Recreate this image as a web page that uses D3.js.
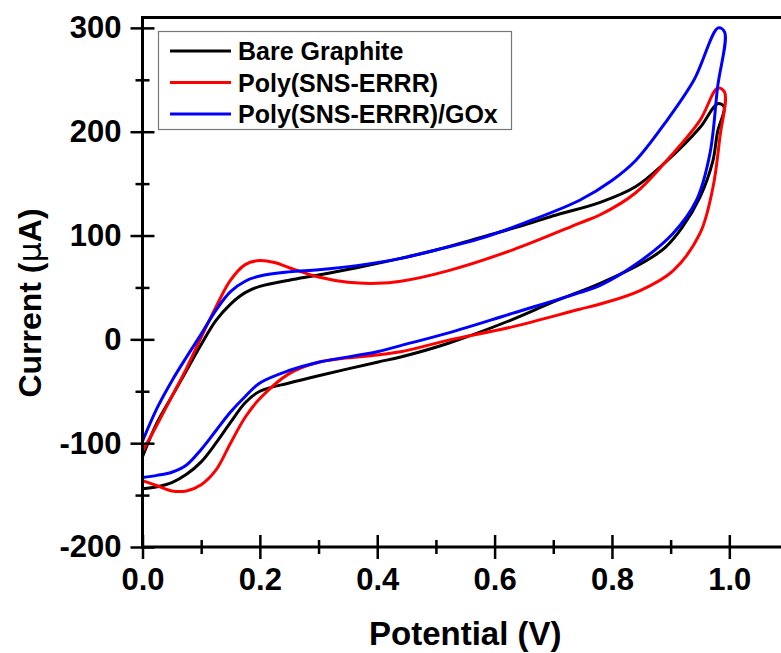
<!DOCTYPE html>
<html>
<head>
<meta charset="utf-8">
<script src="https://cdn.jsdelivr.net/npm/d3@7"></script>
<style>
  body { margin: 0; background: #fff; }
  svg { display: block; font-family: "Liberation Sans", Arial, sans-serif; font-weight: bold; }
</style>
</head>
<body>
<div id="chart"></div>
<script>
// series: potential (V) and current (uA), forward sweep then reverse sweep
const seriesNames = ["Bare Graphite", "Poly(SNS-ERRR)", "Poly(SNS-ERRR)/GOx"]
const seriesColors = ["#000000", "#ff0000", "#0000ff"]

const bareV = [0, .025, .05, .075, .1, .125, .15, .175, .2, .25, .3, .365, .44, .5, .575, .65, .7, .78, .84, .89, .95, .98, .991,
               .98, .972, .95, .92, .89, .85, .78, .7, .63, .52, .44, .4, .3, .25, .2, .175, .15, .125, .1, .075, .05, .025, 0]
const bareI = [-113, -80, -55, -30, -5, 18, 34, 45, 51, 57, 62, 69, 78, 86, 98, 110, 119, 132, 147, 170, 204, 227, 224,
               200, 172, 137, 108, 88, 73, 54, 36, 19, -4, -17, -22, -35, -42, -50, -61, -80, -100, -118, -130, -138, -142, -144]

const polyV = [0, .025, .05, .075, .1, .125, .15, .175, .2, .225, .25, .3, .35, .4, .44, .52, .63, .745, .78, .84, .893, .95, .98, .992,
               .984, .972, .95, .904, .848, .78, .745, .63, .52, .44, .4, .3, .25, .2, .175, .15, .125, .1, .075, .05, .025, 0]
const polyI = [-108, -82, -55, -28, 2, 31, 57, 72, 76, 74, 69, 60, 55, 54, 56, 66, 86, 112, 120, 141, 172, 211, 242, 238,
               195, 146, 102, 66, 47, 34, 29, 12, -1, -12, -15, -22, -33, -57, -75, -100, -126, -140, -146, -146, -141, -136]

const goxV = [0, .025, .05, .075, .1, .125, .15, .175, .2, .25, .3, .365, .44, .5, .575, .65, .745, .8, .84, .89, .94, .981, .992,
              .98, .967, .944, .904, .84, .78, .745, .63, .52, .44, .4, .3, .25, .2, .175, .15, .125, .1, .075, .05, .025, 0]
const goxI = [-98, -66, -40, -17, 5, 28, 46, 56, 61, 65, 67, 71, 78, 86, 97, 112, 134, 153, 172, 208, 250, 300, 296,
              243, 179, 134, 102, 72, 52, 45, 25, 6, -6, -12, -22, -30, -42, -55, -70, -88, -106, -121, -128, -131, -133]

const xMajor = [0, 0.2, 0.4, 0.6, 0.8, 1.0]
const xMinor = [0.1, 0.3, 0.5, 0.7, 0.9]
const yMajor = [-200, -100, 0, 100, 200, 300]
const yMinor = [-150, -50, 50, 150, 250]

const width = 781, height = 653
const padLeft = 142.5, padRight = 788, padTop = 17.5, padBottom = 547

const x = d3.scaleLinear().domain([0, 1.1]).range([padLeft, padRight])
const y = d3.scaleLinear().domain([-200, 310]).range([padBottom, padTop])

const svg = d3.select("#chart").append("svg")
  .attr("width", width)
  .attr("height", height)

const series = [
  {name: seriesNames[0], color: seriesColors[0], v: bareV, i: bareI},
  {name: seriesNames[1], color: seriesColors[1], v: polyV, i: polyI},
  {name: seriesNames[2], color: seriesColors[2], v: goxV, i: goxI}
]

const line = d3.line()
  .x(d => x(d[0]))
  .y(d => y(d[1]))
  .curve(d3.curveCatmullRom.alpha(0.5))

svg.append("defs").append("clipPath").attr("id", "plot-clip")
  .append("rect")
  .attr("x", padLeft).attr("y", padTop)
  .attr("width", padRight - padLeft).attr("height", padBottom - padTop)

const plot = svg.append("g").attr("clip-path", "url(#plot-clip)")
series.forEach(s => {
  plot.append("path")
    .datum(s.v.map((v, k) => [v, s.i[k]]))
    .attr("fill", "none")
    .attr("stroke", s.color)
    .attr("stroke-width", 3)
    .attr("stroke-linejoin", "round")
    .attr("d", line)
})

// frame
svg.append("rect")
  .attr("x", padLeft).attr("y", padTop)
  .attr("width", padRight - padLeft).attr("height", padBottom - padTop)
  .attr("fill", "none")
  .attr("stroke", "#000")
  .attr("stroke-width", 3)

function styleAxis(g) {
  g.select(".domain").remove()
  g.selectAll(".tick line").attr("stroke", "#000").attr("stroke-width", 2.5)
  g.selectAll("text").attr("fill", "#000").style("font-size", "31px").style("font-weight", "bold")
}

// y axis: labelled major ticks outside, plus inside halves and minor ticks
svg.append("g")
  .attr("transform", "translate(" + padLeft + ",0)")
  .call(d3.axisLeft(y).tickValues(yMajor).tickSize(12).tickPadding(9).tickFormat(d => String(d)))
  .call(styleAxis)
svg.append("g")
  .attr("transform", "translate(" + padLeft + ",0)")
  .call(d3.axisRight(y).tickValues(yMajor).tickSize(12).tickFormat(""))
  .call(styleAxis)
svg.append("g")
  .attr("transform", "translate(" + padLeft + ",0)")
  .call(d3.axisLeft(y).tickValues(yMinor).tickSize(7).tickFormat(""))
  .call(styleAxis)
svg.append("g")
  .attr("transform", "translate(" + padLeft + ",0)")
  .call(d3.axisRight(y).tickValues(yMinor).tickSize(7).tickFormat(""))
  .call(styleAxis)

// x axis
svg.append("g")
  .attr("transform", "translate(0," + padBottom + ")")
  .call(d3.axisBottom(x).tickValues(xMajor).tickSize(12).tickPadding(9).tickFormat(d3.format(".1f")))
  .call(styleAxis)
svg.append("g")
  .attr("transform", "translate(0," + padBottom + ")")
  .call(d3.axisTop(x).tickValues(xMajor).tickSize(12).tickFormat(""))
  .call(styleAxis)
svg.append("g")
  .attr("transform", "translate(0," + padBottom + ")")
  .call(d3.axisBottom(x).tickValues(xMinor).tickSize(7).tickFormat(""))
  .call(styleAxis)
svg.append("g")
  .attr("transform", "translate(0," + padBottom + ")")
  .call(d3.axisTop(x).tickValues(xMinor).tickSize(7).tickFormat(""))
  .call(styleAxis)

// axis titles
svg.append("text")
  .attr("x", (padLeft + padRight) / 2)
  .attr("y", 645)
  .attr("text-anchor", "middle")
  .style("font-size", "33px")
  .text("Potential (V)")

const yTitle = svg.append("text")
  .attr("transform", "translate(41,303) rotate(-90)")
  .attr("text-anchor", "middle")
  .style("font-size", "32px")
yTitle.append("tspan").text("Current (")
yTitle.append("tspan").style("font-family", "'DejaVu Sans', sans-serif").style("font-weight", "normal").text("\u03bc")
yTitle.append("tspan").text("A)")

// legend
const legend = svg.append("g")
legend.append("rect")
  .attr("x", 158.5).attr("y", 31.5)
  .attr("width", 353).attr("height", 98)
  .attr("fill", "#fff")
  .attr("stroke", "#777")
  .attr("stroke-width", 1.2)
series.forEach((s, k) => {
  const ly = 51 + k * 31.5
  legend.append("line")
    .attr("x1", 170).attr("x2", 231)
    .attr("y1", ly).attr("y2", ly)
    .attr("stroke", s.color)
    .attr("stroke-width", 3)
  legend.append("text")
    .attr("x", 238).attr("y", ly + 9)
    .style("font-size", "25px")
    .text(s.name)
})
</script>
</body>
</html>
